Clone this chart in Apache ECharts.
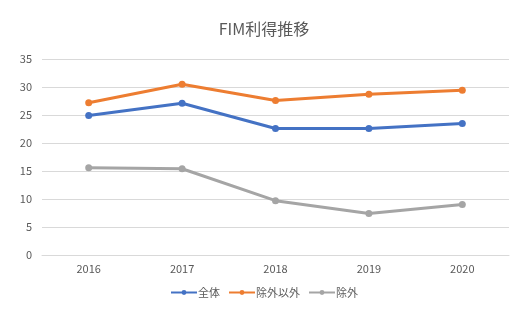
<!DOCTYPE html>
<html><head><meta charset="utf-8">
<script src="https://cdn.jsdelivr.net/npm/echarts@6/dist/echarts.min.js"></script>
<style>html,body{margin:0;padding:0;background:#fff}#c{width:528px;height:336px}</style>
</head><body><div id="c"></div>
<script>
const categories = ['2016','2017','2018','2019','2020'];
const seriesNames = ['全体','除外以外','除外'];
const allValues = [24.9, 27.1, 22.6, 22.6, 23.5];
const nonExcludedValues = [27.2, 30.5, 27.6, 28.7, 29.4];
const excludedValues = [15.6, 15.4, 9.7, 7.4, 9.0];
const colors = ['#4472C4','#ED7D31','#A5A5A5'];
const font = '"Noto Sans CJK JP", "Noto Sans", sans-serif';
const chart = echarts.init(document.getElementById('c'));
const mk = (name, data, color) => ({
  name, type: 'line', data, symbol: 'circle', symbolSize: 7,
  lineStyle: {color, width: 3}, itemStyle: {color}, animation: false
});
chart.setOption({
  animation: false,
  title: {text: 'FIM利得推移', left: 'center', top: 16,
    textStyle: {color: '#595959', fontSize: 16, fontWeight: 'normal', fontFamily: font}},
  grid: {left: 42, right: 19, top: 59, bottom: 81},
  legend: {bottom: 33, left: 'center', itemWidth: 26, itemHeight: 6, itemGap: 8,
    textStyle: {color: '#595959', fontSize: 11, fontFamily: font, padding: [0, 0, 0, -4]},
    data: seriesNames},
  xAxis: {type: 'category', data: categories, boundaryGap: true,
    axisLine: {lineStyle: {color: '#D9D9D9'}}, axisTick: {show: false},
    axisLabel: {color: '#595959', fontSize: 11, fontFamily: font, margin: 8}},
  yAxis: {type: 'value', min: 0, max: 35, interval: 5,
    axisLine: {show: false}, axisTick: {show: false},
    splitLine: {lineStyle: {color: '#D9D9D9'}},
    axisLabel: {color: '#595959', fontSize: 11, fontFamily: font, margin: 10}},
  series: [mk(seriesNames[0], allValues, colors[0]), mk(seriesNames[1], nonExcludedValues, colors[1]), mk(seriesNames[2], excludedValues, colors[2])]
});
</script></body></html>
